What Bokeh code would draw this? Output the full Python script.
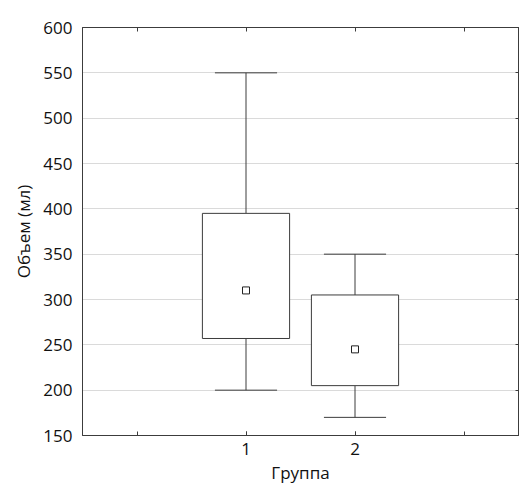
from bokeh.plotting import figure
from bokeh.models import Range1d, FixedTicker, LinearAxis
from bokeh.embed import file_html
from bokeh.resources import INLINE

# Data
groups = ["1", "2"]
positions = [1, 2]
whisker_low = [200, 170]
q1 = [257, 205]
means = [310, 245]
q3 = [395, 305]
whisker_high = [550, 350]
y_ticks = [150, 200, 250, 300, 350, 400, 450, 500, 550, 600]
x_minor = [0, 1, 2, 3]

FONT = "Open Sans"
DARK = "#3c3c3c"

p = figure(width=519, height=488, output_backend="svg", toolbar_location=None,
           x_range=Range1d(-0.5, 3.5), y_range=Range1d(150, 600),
           min_border_left=82, min_border_top=27, min_border_bottom=53, min_border_right=1)

p.outline_line_color = DARK
p.outline_line_width = 1
p.background_fill_color = "white"
p.border_fill_color = "white"

# axes
xa = p.xaxis[0]
xa.ticker = FixedTicker(ticks=positions, minor_ticks=x_minor)
xa.major_label_overrides = {1: groups[0], 2: groups[1]}
xa.axis_label = "Группа"
ya = p.yaxis[0]
ya.ticker = FixedTicker(ticks=y_ticks)
ya.axis_label = "Объем (мл)"

for ax in (xa, ya):
    ax.axis_line_color = DARK
    ax.major_label_text_font = FONT
    ax.major_label_text_font_size = "17px"
    ax.major_label_text_color = "#111111"
    ax.axis_label_text_font = FONT
    ax.axis_label_text_font_size = "17px"
    ax.axis_label_text_font_style = "normal"
    ax.axis_label_text_color = "#111111"
    ax.major_tick_out = 0
    ax.minor_tick_out = 0
xa.major_tick_in = 4
xa.minor_tick_in = 4
xa.major_tick_line_color = DARK
xa.minor_tick_line_color = DARK
xa.major_label_standoff = 7
xa.axis_label_standoff = 3
ya.major_tick_in = 0
ya.minor_tick_in = 0
ya.major_tick_line_color = None
ya.minor_tick_line_color = None
ya.major_label_standoff = 10
ya.axis_label_standoff = 5

top = LinearAxis(ticker=FixedTicker(ticks=[], minor_ticks=x_minor),
                 major_tick_in=0, major_tick_out=0, minor_tick_in=4, minor_tick_out=0,
                 axis_line_color=DARK, minor_tick_line_color=DARK, major_label_standoff=0)
p.add_layout(top, "above")
right = LinearAxis(ticker=FixedTicker(ticks=[], minor_ticks=y_ticks),
                   major_tick_in=0, major_tick_out=0, minor_tick_in=3, minor_tick_out=0,
                   axis_line_color=DARK, minor_tick_line_color=DARK, major_label_standoff=0)
p.add_layout(right, "right")

p.xgrid.grid_line_color = None
p.ygrid.grid_line_color = "#b5b5b5"
p.ygrid.grid_line_dash = "1 1"
p.ygrid.grid_line_width = 1
p.ygrid.ticker = FixedTicker(ticks=y_ticks)

box_w = 0.8
cap_w = 0.57
cap_x0 = [x - cap_w / 2 for x in positions]
cap_x1 = [x + cap_w / 2 for x in positions]

# whiskers
p.segment(x0=positions, y0=q3, x1=positions, y1=whisker_high, line_color=DARK, line_width=1)
p.segment(x0=positions, y0=whisker_low, x1=positions, y1=q1, line_color=DARK, line_width=1)
p.segment(x0=cap_x0, y0=whisker_high, x1=cap_x1, y1=whisker_high, line_color=DARK, line_width=1)
p.segment(x0=cap_x0, y0=whisker_low, x1=cap_x1, y1=whisker_low, line_color=DARK, line_width=1)

# boxes
p.vbar(x=positions, width=box_w, bottom=q1, top=q3, fill_color="white", line_color=DARK, line_width=1)

# means
p.scatter(x=positions, y=means, marker="square", size=7, fill_color="white", line_color="#222222", line_width=1)

open("out.html", "w").write(file_html(p, INLINE))
